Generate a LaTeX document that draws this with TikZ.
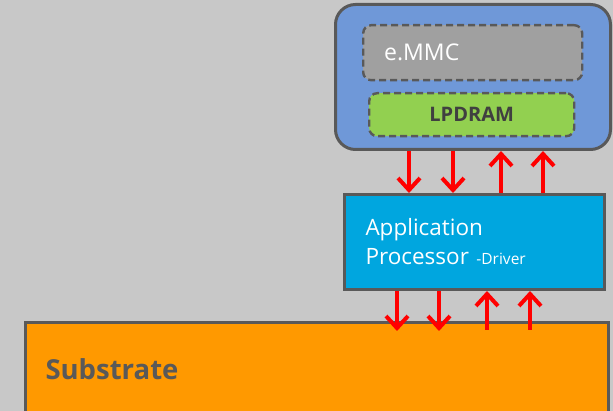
\documentclass[tikz,border=0pt]{standalone}
\usepackage{fontspec}
\setmainfont{Open Sans}
\usetikzlibrary{arrows.meta,positioning,calc}

\definecolor{bggray}{HTML}{C8C8C8}
\definecolor{edgegray}{HTML}{595959}
\definecolor{memblue}{HTML}{6F98D8}
\definecolor{emmcgray}{HTML}{A0A0A0}
\definecolor{dramgreen}{HTML}{92D050}
\definecolor{apblue}{HTML}{00A6DF}
\definecolor{suborange}{HTML}{FF9900}
\definecolor{sigred}{HTML}{FF0000}
\definecolor{labelgray}{HTML}{404040}

\begin{document}
\begin{tikzpicture}[x=1pt,y=-1pt,
    box/.style={draw=edgegray, line width=3pt, inner ysep=0pt, anchor=north west},
    chip/.style={draw=edgegray, line width=2.4pt, dash pattern=on 7pt off 4pt,
                 rounded corners=8pt, inner ysep=0pt, anchor=north west},
    sig/.style={draw=sigred, line width=4pt,
                -{Straight Barb[length=12pt, width=22pt]}}
]

% --------------------
% background
% --------------------
\fill[bggray] (0,0) rectangle (613,411);
\useasboundingbox (0,0) rectangle (613,411);

% --------------------
% memory package
% --------------------
\node[box, fill=memblue, rounded corners=20pt,
      minimum width=275pt, minimum height=145pt] (mem) at (334,3) {};

\node[chip, fill=emmcgray, inner xsep=21pt, text width=177pt, align=left,
      minimum height=55pt, text=white,
      font=\fontsize{23}{27}\selectfont] (emmc) at (362,24) {e.MMC};

\node[chip, fill=dramgreen, inner xsep=0pt, minimum width=205pt,
      minimum height=43pt, text=labelgray,
      font=\fontsize{20}{24}\selectfont\bfseries] (dram) at (368,92) {LPDRAM};

% --------------------
% application processor
% --------------------
\node[box, fill=apblue, inner xsep=21pt, text width=218pt, align=left,
      minimum height=95pt, text=white,
      font=\fontsize{22.5}{29}\selectfont] (ap) at (343,193)
      {Application\\Processor {\fontsize{15.5}{17}\selectfont -Driver}};

% --------------------
% substrate
% --------------------
\node[box, fill=suborange, inner xsep=20pt, text width=543pt, align=left,
      minimum height=94pt, text=edgegray,
      font=\fontsize{27.5}{32}\selectfont\bfseries] (sub) at (24,321) {Substrate};

% --------------------
% signals memory <-> processor
% --------------------
\draw[sig] (409,0 |- mem.south) -- (409,0 |- ap.north);
\draw[sig] (453,0 |- mem.south) -- (453,0 |- ap.north);
\draw[sig] (501,0 |- ap.north) -- (501,0 |- mem.south);
\draw[sig] (543,0 |- ap.north) -- (543,0 |- mem.south);

% --------------------
% signals processor <-> substrate
% --------------------
\draw[sig] (397,0 |- ap.south) -- ($(397,0 |- sub.north)+(0,10)$);
\draw[sig] (439,0 |- ap.south) -- ($(439,0 |- sub.north)+(0,10)$);
\draw[sig] ($(487,0 |- sub.north)+(0,9)$) -- (487,0 |- ap.south);
\draw[sig] ($(530,0 |- sub.north)+(0,9)$) -- (530,0 |- ap.south);

\end{tikzpicture}
\end{document}
